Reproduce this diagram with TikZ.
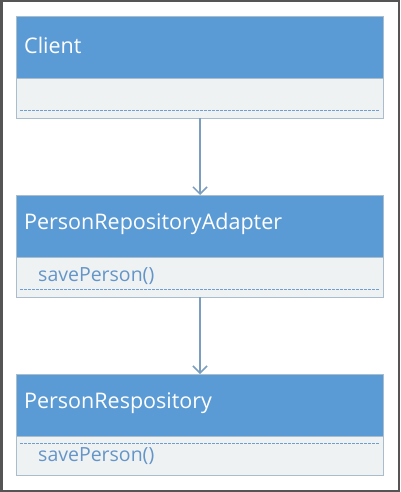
\documentclass[tikz,border=0pt]{standalone}
\usepackage{fontspec}
\setmainfont{Open Sans}
\usetikzlibrary{arrows.meta}
\definecolor{hdr}{HTML}{5B9BD5}
\definecolor{bodyc}{HTML}{EFF2F3}
\definecolor{edge}{HTML}{A9BDCD}
\definecolor{dashc}{HTML}{6F9FD0}
\definecolor{meth}{HTML}{6495C8}
\definecolor{arr}{HTML}{7B9DC0}
\definecolor{frame}{HTML}{555555}
\begin{document}
\begin{tikzpicture}[x=1pt,y=-1pt,
  header/.style={fill=hdr,draw=edge,line width=0.8pt},
  bodybox/.style={fill=bodyc,draw=edge,line width=0.8pt},
  sep/.style={draw=dashc,dash pattern=on 2.5pt off 1.5pt,line width=0.8pt},
  title/.style={anchor=west,text=white,font=\fontsize{21.5}{24}\selectfont,inner sep=0pt},
  method/.style={anchor=west,text=meth,font=\fontsize{19.5}{22}\selectfont,inner sep=0pt},
  conn/.style={draw=arr,line width=1.5pt,-{Straight Barb[length=7pt,width=14pt,line width=1.5pt]}}]
\useasboundingbox (0,0) rectangle (400,492);
\fill[white] (0,0) rectangle (400,492);
\draw[frame,line width=2.5pt] (1.25,1.25) rectangle (398.75,490.75);
% Box 1
\path[header] (16,16) rectangle (383,78);
\path[bodybox] (16,78) rectangle (383,118);
\path[sep] (20,110) -- (379,110);
\node[title] (c1) at (24,45) {Client};
\coordinate (b1) at (200,118);
% Box 2
\path[header] (16,195) rectangle (383,257);
\path[bodybox] (16,257) rectangle (383,297);
\path[sep] (20,289) -- (379,289);
\node[title] (c2) at (24,224) {PersonRepositoryAdapter};
\node[method] (m2) at (38,276) {savePerson()};
\coordinate (t2) at (200,195);
\coordinate (b2) at (200,297);
% Box 3
\path[header] (16,374) rectangle (383,436);
\path[bodybox] (16,436) rectangle (383,475);
\path[sep] (20,443) -- (379,443);
\node[title] (c3) at (24,403) {PersonRespository};
\node[method] (m3) at (38,456) {savePerson()};
\coordinate (t3) at (200,374);
% connectors
\draw[conn] (b1) -- (t2);
\draw[conn] (b2) -- (t3);
\end{tikzpicture}
\end{document}
